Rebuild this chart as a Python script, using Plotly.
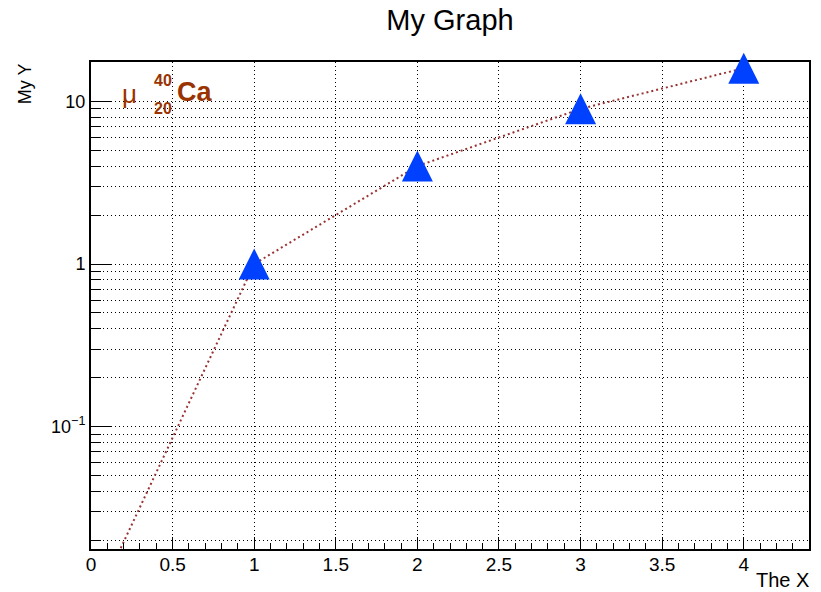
import numpy as np
import plotly.graph_objects as go

# ---- data ----
x_pts = [1, 2, 3, 4]
y_pts = [1, 4, 9, 16]
x_line = [0, 1, 2, 3, 4]
y_line = [0.0073, 1, 4, 9, 16]   # first point (y=0) drawn at the log floor ROOT uses

x_tick_vals = [0, 0.5, 1, 1.5, 2, 2.5, 3, 3.5, 4]
x_tick_text = ["0", "0.5", "1", "1.5", "2", "2.5", "3", "3.5", "4"]
y_tick_vals = [0.1, 1, 10]
y_tick_text = ["10<sup>\u22121</sup>", "1", "10"]
y_minor_vals = [m * d for d in [0.01, 0.1, 1, 10] for m in range(2, 10)]

title_text = "My Graph"
x_title = "The X"
y_title = "My Y"

# ---- geometry ----
W, H = 821, 592
ML, MR, MB = 91, 10, 43
FRAME_TOP = 62          # top of the drawn frame
PT = 35                 # top of the (invisible) marker layer
area_h = H - MB - PT
frame_h = H - MB - FRAME_TOP
y_lo, y_hi = -1.7527, 1.2423
x_lo, x_hi = 0, 4.4
marker_size = 31
px_per_dec = frame_h / (y_hi - y_lo)
shift = (marker_size / 2) / px_per_dec
y2_lo = y_lo - shift
y2_hi = y2_lo + area_h / px_per_dec

FONT = "Liberation Sans, Arial, Helvetica, sans-serif"
LINE_COL = "#993333"
MARK_COL = "#0040ff"
TEXT_COL = "#993300"

fig = go.Figure()
fig.add_trace(go.Scatter(
    x=x_line, y=y_line, mode="lines",
    line=dict(color=LINE_COL, width=2, dash="2px,3px"),
    hoverinfo="skip", showlegend=False, cliponaxis=True))
fig.add_trace(go.Scatter(
    x=x_pts, y=y_pts, mode="markers", xaxis="x2", yaxis="y2",
    marker=dict(symbol="arrow-up", size=marker_size, color=MARK_COL,
                line=dict(width=0)),
    showlegend=False, cliponaxis=False))

grid = dict(showgrid=True, gridcolor="black", gridwidth=1, griddash="1px,3px")

fig.update_layout(
    width=W, height=H,
    margin=dict(l=ML, r=MR, t=PT, b=MB),
    paper_bgcolor="white", plot_bgcolor="rgba(0,0,0,0)",
    font=dict(family=FONT, color="black"),
    title=dict(text=title_text, x=0.5, xref="paper", xanchor="center",
               y=1 - 19.5 / H, yanchor="middle",
               font=dict(size=29, family=FONT, color="black")),
    xaxis=dict(range=[x_lo, x_hi], domain=[0, 1], anchor="y",
               tickmode="array", tickvals=x_tick_vals,
               ticktext=x_tick_text, ticks="inside", ticklen=12, tickwidth=1,
               tickcolor="black", showline=True, linecolor="black", linewidth=2,
               mirror=True, zeroline=False, tickfont=dict(size=19, family=FONT),
               ticklabelstandoff=-3,
               minor=dict(dtick=0.1, tick0=0, ticks="inside", ticklen=6,
                          tickcolor="black", tickwidth=1, showgrid=False),
               **grid),
    yaxis=dict(type="log", range=[y_lo, y_hi], domain=[0, frame_h / area_h],
               anchor="x", tickmode="array",
               tickvals=y_tick_vals, ticktext=y_tick_text, ticks="inside",
               ticklen=20, tickwidth=1, tickcolor="black", showline=True,
               linecolor="black", linewidth=2, mirror=True, zeroline=False,
               tickfont=dict(size=18, family=FONT),
               minor=dict(tickmode="array", tickvals=y_minor_vals, ticks="inside",
                          ticklen=10, tickcolor="black", tickwidth=1,
                          showgrid=True, gridcolor="black", gridwidth=1,
                          griddash="1px,3px"),
               **grid),
    xaxis2=dict(range=[x_lo, x_hi], domain=[0, 1], anchor="y2", visible=False,
                showgrid=False),
    yaxis2=dict(type="log", range=[y2_lo, y2_hi], domain=[0, 1], anchor="x2",
                visible=False, showgrid=False),
)

ann = [
    dict(text=x_title, x=813, y=580, xanchor="right", size=20, bold=False,
         angle=0, color="black"),
    dict(text=y_title, x=25, y=84, xanchor="center", size=18, bold=False,
         angle=-90, color="black"),
    dict(text="\u03bc", x=130, y=94, xanchor="center", size=26, bold=False,
         angle=0, color=TEXT_COL),
    dict(text="40", x=163.5, y=80, xanchor="center", size=16, bold=True,
         angle=0, color=TEXT_COL),
    dict(text="20", x=163.5, y=109, xanchor="center", size=16, bold=True,
         angle=0, color=TEXT_COL),
    dict(text="Ca", x=175, y=92, xanchor="left", size=27, bold=True,
         angle=0, color=TEXT_COL),
]
for a in ann:
    t = f"<b>{a['text']}</b>" if a["bold"] else a["text"]
    fig.add_annotation(text=t, xref="paper", yref="paper",
                       x=(a["x"] - ML) / (W - ML - MR),
                       y=1 - (a["y"] - PT) / area_h,
                       xanchor=a["xanchor"], yanchor="middle",
                       textangle=a["angle"], showarrow=False,
                       font=dict(size=a["size"], color=a["color"], family=FONT))

fig.write_html("out.html")
